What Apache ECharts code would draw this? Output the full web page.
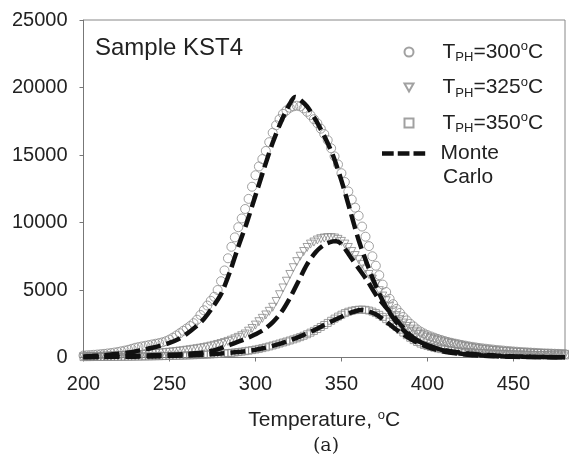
<!DOCTYPE html>
<html>
<head>
<meta charset="utf-8">
<script src="https://cdn.jsdelivr.net/npm/echarts@6.0.0/dist/echarts.min.js"></script>
<style>html,body{margin:0;padding:0;background:#fff}#c{width:569px;height:464px}</style>
</head>
<body>
<div id="c"></div>
<script>
// Shared temperature grid of the measured glow curves (°C)
var temps = [
200,202,204,206,208,210,212,214,216,218,
220,222,224,226,228,230,232,234,236,238,
240,242,244,246,248,250,252,254,256,258,
260,262,264,266,268,270,272,274,276,278,
280,282,284,286,288,290,292,294,296,298,
300,302,304,306,308,310,312,314,316,318,
320,322,324,326,328,330,332,334,336,338,
340,342,344,346,348,350,352,354,356,358,
360,362,364,366,368,370,372,374,376,378,
380,382,384,386,388,390,392,394,396,398,
400,402,404,406,408,410,412,414,416,418,
420,422,424,426,428,430,432,434,436,438,
440,442,444,446,448,450,452,454,456,458,
460,462,464,466,468,470,472,474,476,478,
480];

// T_PH = 300 °C (circles)
var tph300 = [
150,165,180,200,220,245,270,300,330,370,
410,460,510,570,640,720,770,820,870,920,
970,1020,1070,1130,1210,1330,1470,1630,1800,1980,
2150,2330,2540,2800,3150,3500,3850,4200,4500,5000,
5650,6450,7350,8200,8900,9650,10300,11000,11750,12650,
13500,14150,14700,15300,15950,16650,17200,17650,18050,18300,
18500,18600,18650,18600,18450,18200,17950,17650,17350,16950,
16550,16100,15500,14900,14300,13650,13000,12300,11700,11100,
10500,9700,8950,8250,7500,6800,6100,5400,4850,4350,
3950,3600,3300,3000,2750,2500,2300,2080,1920,1780,
1660,1560,1470,1380,1300,1220,1150,1090,1030,980,
930,880,830,790,750,710,680,650,620,590,
560,540,515,490,470,450,430,410,395,380,
365,350,335,320,310,300,290,280,270,260,
250];

// T_PH = 325 °C (triangles)
var tph325 = [
60,65,70,76,82,90,98,106,115,125,
135,146,158,170,183,197,212,228,245,263,
282,302,323,345,368,392,418,445,474,505,
540,575,612,650,690,735,785,840,900,965,
1035,1110,1190,1280,1380,1490,1610,1740,1950,2150,
2400,2650,2900,3150,3420,3720,4150,4650,5150,5650,
6150,6650,7100,7500,7850,8150,8400,8550,8700,8800,
8850,8880,8880,8850,8750,8600,8400,8150,7850,7550,
7250,6900,6550,6150,5800,5400,4950,4550,4200,3800,
3450,3100,2800,2550,2300,2100,1950,1820,1700,1600,
1500,1420,1345,1275,1210,1150,1090,1040,980,920,
860,810,765,720,680,640,605,575,545,520,
495,475,455,435,415,400,385,370,355,342,
330,318,306,295,285,275,265,256,248,240,
232];

// T_PH = 350 °C (squares)
var tph350 = [
30,31,33,35,37,39,41,43,45,48,
51,54,57,60,64,68,72,76,80,84,
89,94,99,105,111,117,123,130,137,145,
153,162,171,181,192,204,217,231,246,262,
280,300,322,346,372,400,432,467,505,546,
590,640,695,755,820,890,960,1035,1110,1185,
1260,1340,1420,1510,1610,1720,1840,1970,2110,2260,
2410,2560,2720,2880,3030,3170,3290,3390,3460,3510,
3540,3550,3530,3480,3400,3290,3160,3010,2840,2660,
2470,2270,2060,1850,1650,1460,1290,1150,1030,930,
850,780,720,670,620,580,545,510,480,455,
430,410,390,372,355,340,326,313,300,288,
277,267,257,248,240,232,225,218,211,205,
199,193,188,183,178,173,169,165,161,157,
153];

// Monte Carlo fits [T, intensity]
var mc300 = [[200,80],[205,110],[210,150],[215,200],[220,270],[225,350],[230,450],[235,580],[240,720],[245,880],[250,1080],[255,1350],[260,1750],[265,2250],[270,2850],[275,3700],[280,4700],[285,6300],[290,8200],[295,10000],[300,12000],[305,14000],[310,15900],[315,17500],[320,18800],[323,19300],[325,19200],[330,18600],[335,17600],[340,16400],[345,15000],[350,13100],[355,10900],[360,8700],[365,6900],[370,5300],[375,3950],[380,2950],[385,2150],[390,1600],[395,1200],[400,900],[405,680],[410,500],[415,370],[420,280],[425,210],[430,160],[440,100],[450,60],[460,40],[470,25],[480,15]];
var mc325 = [[200,20],[210,40],[220,70],[230,110],[240,160],[250,200],[260,260],[265,310],[270,380],[275,500],[280,700],[285,930],[290,1170],[295,1420],[300,1720],[305,2080],[310,2600],[315,3350],[320,4400],[325,5650],[330,6900],[335,7800],[340,8350],[345,8600],[347,8620],[350,8400],[355,7500],[360,6600],[365,5700],[370,4650],[375,3850],[380,3100],[385,2350],[390,1650],[395,1200],[400,900],[405,700],[410,540],[415,440],[420,350],[425,280],[430,220],[440,140],[450,85],[460,50],[470,30],[480,20]];
var mc350 = [[200,30],[220,50],[240,80],[260,150],[270,210],[280,290],[290,400],[300,570],[305,700],[310,860],[315,1050],[320,1270],[325,1510],[330,1780],[335,2080],[340,2400],[345,2720],[350,3020],[355,3300],[360,3500],[362,3520],[365,3450],[370,3200],[375,2750],[380,2250],[385,1780],[390,1380],[395,1040],[400,780],[405,580],[410,430],[415,330],[420,250],[430,150],[440,90],[450,55],[460,35],[470,22],[480,15]];

var xTicks = [200, 250, 300, 350, 400, 450];
var yTicks = [0, 5000, 10000, 15000, 20000, 25000];

function pairs(xs, ys) { return xs.map(function (x, i) { return [x, ys[i]]; }); }

var GREY = '#8a8a8a';
var FONT = 'Liberation Sans';
var TXT = '#222';
var DOWN_TRI = 'path://M0,0L10,0L5,8.66Z';
var richT = {
  a: { fontFamily: FONT, fontSize: 21, color: TXT, lineHeight: 24, padding: [0, 0, 0, 24] },
  t: { fontFamily: FONT, fontSize: 21, color: TXT, lineHeight: 24 },
  s: { fontFamily: FONT, fontSize: 13, color: TXT, lineHeight: 13, verticalAlign: 'bottom' },
  p: { fontFamily: FONT, fontSize: 13, color: TXT, lineHeight: 13, verticalAlign: 'top' }
};

function expSeries(name, data, symbol, size) {
  return {
    name: name, type: 'scatter', data: data, symbol: symbol, symbolSize: size,
    itemStyle: { color: 'rgba(255,255,255,0)', borderColor: GREY, borderWidth: 1 },
    emphasis: { disabled: true }, animation: false, z: 2
  };
}
function mcSeries(name, data) {
  return {
    name: name, type: 'line', data: data, smooth: 0.3, showSymbol: false, symbol: 'none',
    lineStyle: { color: '#111', width: 4.5, type: [15, 6] },
    itemStyle: { color: '#111' },
    emphasis: { disabled: true }, animation: false, z: 5
  };
}

var chart = echarts.init(document.getElementById('c'), null, { renderer: 'canvas' });
chart.setOption({
  animation: false,
  grid: { left: 83.5, right: 4, top: 20, bottom: 106.5, show: true, borderColor: '#888', borderWidth: 1, backgroundColor: 'transparent' },
  xAxis: {
    type: 'value', min: 200, max: 480, interval: 50,
    axisLine: { show: true, onZero: false, lineStyle: { color: '#777', width: 1 } },
    axisTick: { show: true, inside: false, length: 4, lineStyle: { color: '#777' } },
    splitLine: { show: false },
    axisLabel: { color: TXT, fontFamily: FONT, fontSize: 20, margin: 17, showMaxLabel: false,
      formatter: function (v) { return xTicks.indexOf(v) >= 0 ? String(v) : ''; } },
    name: '{t|Temperature, }{p|o}{t|C}', nameLocation: 'middle', nameGap: 51,
    nameTextStyle: { rich: richT }
  },
  yAxis: {
    type: 'value', min: 0, max: 25000, interval: 5000,
    axisLine: { show: true, lineStyle: { color: '#777', width: 1 } },
    axisTick: { show: true, inside: false, length: 4, lineStyle: { color: '#777' } },
    splitLine: { show: false },
    axisLabel: { color: TXT, fontFamily: FONT, fontSize: 20, margin: 16,
      formatter: function (v) { return yTicks.indexOf(v) >= 0 ? String(v) : ''; } }
  },
  legend: [{
    data: ['300', { name: '325', icon: DOWN_TRI }, '350'], orient: 'vertical', left: 403.5, top: 40, padding: 0,
    itemWidth: 9, itemHeight: 9, itemGap: 11.5, selectedMode: false,
    formatter: function (n) { return '{a|T}{s|PH}{t|=' + n + '}{p|o}{t|C}'; },
    textStyle: { rich: richT }
  }, {
    data: [{ name: 'Monte Carlo', icon: 'path://M0,0h13v5h-13z M17.5,0h13v5h-13z M35,0h13v5h-13z' }],
    orient: 'vertical', left: 382, top: 143, padding: 0,
    itemWidth: 48, itemHeight: 4.5, selectedMode: false,
    formatter: function () { return '{m|Monte}'; },
    textStyle: { rich: { m: { fontFamily: FONT, fontSize: 21, color: TXT, lineHeight: 24, padding: [0, 0, 0, 8] } } }
  }],
  graphic: [
    { type: 'text', x: 95, y: 48, style: { text: 'Sample KST4', fontFamily: FONT, fontSize: 24, fill: TXT, align: 'left', verticalAlign: 'middle' } },
    { type: 'text', x: 443, y: 177, style: { text: 'Carlo', fontFamily: FONT, fontSize: 21, fill: TXT, align: 'left', verticalAlign: 'middle' } },
    { type: 'text', x: 326, y: 446, style: { text: '(a)', fontFamily: 'DejaVu Serif', fontSize: 19, fill: TXT, align: 'center', verticalAlign: 'middle' } }
  ],
  series: [
    expSeries('300', pairs(temps, tph300), 'circle', 9),
    expSeries('325', pairs(temps, tph325), DOWN_TRI, 8),
    expSeries('350', pairs(temps, tph350), 'rect', 7),
    mcSeries('Monte Carlo', mc300),
    mcSeries('Monte Carlo', mc325),
    mcSeries('Monte Carlo', mc350)
  ]
});
</script>
</body>
</html>
